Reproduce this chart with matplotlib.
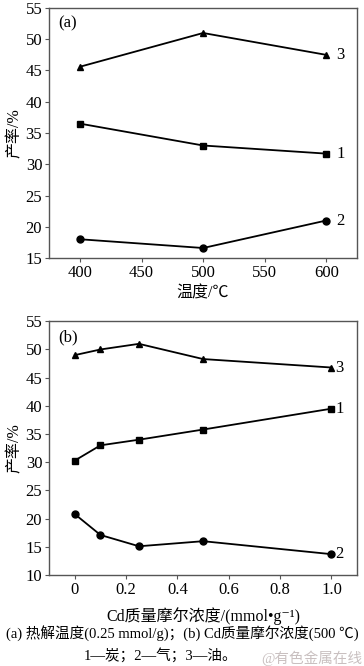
import matplotlib.pyplot as plt

plt.rcParams['font.family'] = ['Liberation Serif', 'Noto Sans CJK SC', 'DejaVu Serif']
plt.rcParams['axes.unicode_minus'] = False
fontsize = 12
lw = 1.3
ms = 5

# (a) pyrolysis temperature
temp = [400, 500, 600]
char_a = [36.5, 33.0, 31.7]
gas_a = [18.0, 16.6, 21.0]
oil_a = [45.6, 51.0, 47.5]

# (b) Cd concentration
conc = [0, 0.1, 0.25, 0.5, 1.0]
char_b = [30.3, 33.0, 34.0, 35.8, 39.5]
gas_b = [20.8, 17.1, 15.1, 16.0, 13.7]
oil_b = [49.0, 50.0, 51.0, 48.3, 46.8]

series_labels = ['1', '2', '3']

fig = plt.figure(figsize=(3.64, 6.66), dpi=100)
ax1 = fig.add_axes([0.135, 0.6126, 0.846, 0.3754])
ax2 = fig.add_axes([0.135, 0.1366, 0.846, 0.381])

def style(ax):
    for s in ax.spines.values():
        s.set_color('#555555')
        s.set_linewidth(1.0)
    ax.tick_params(direction='out', length=3, width=0.8, color='#555555',
                   labelsize=fontsize, pad=2)

ax1.plot(temp, char_a, color='black', marker='s', markersize=ms, linewidth=lw)
ax1.plot(temp, gas_a, color='black', marker='o', markersize=ms, linewidth=lw)
ax1.plot(temp, oil_a, color='black', marker='^', markersize=ms, linewidth=lw)
for ys, lab in zip([char_a, gas_a, oil_a], series_labels):
    ax1.annotate(lab, (temp[-1], ys[-1]), xytext=(7, 0), textcoords='offset points',
                 va='center', ha='left', fontsize=fontsize)
ax1.set_xlim(375, 625)
ax1.set_ylim(15, 55)
ax1.set_xticks([400, 450, 500, 550, 600])
ax1.set_yticks(range(15, 56, 5))
ax1.set_xlabel('温度/℃', fontsize=11.5, labelpad=3)
ax1.set_ylabel('产率/%', fontsize=11.5, labelpad=2)
ax1.text(0.03, 0.97, '(a)', transform=ax1.transAxes, va='top', ha='left', fontsize=fontsize)
style(ax1)

ax2.plot(conc, char_b, color='black', marker='s', markersize=ms, linewidth=lw)
ax2.plot(conc, gas_b, color='black', marker='o', markersize=ms, linewidth=lw)
ax2.plot(conc, oil_b, color='black', marker='^', markersize=ms, linewidth=lw)
for ys, lab in zip([char_b, gas_b, oil_b], series_labels):
    ax2.annotate(lab, (conc[-1], ys[-1]), xytext=(3, 0), textcoords='offset points',
                 va='center', ha='left', fontsize=fontsize)
ax2.set_xlim(-0.1, 1.1)
ax2.set_ylim(10, 55)
ax2.set_xticks([0, 0.2, 0.4, 0.6, 0.8, 1.0])
ax2.set_xticklabels(['0', '0.2', '0.4', '0.6', '0.8', '1.0'])
ax2.set_yticks(range(10, 56, 5))
ax2.set_xlabel('Cd质量摩尔浓度/(mmol•g⁻¹)', fontsize=11.5, labelpad=7)
ax2.set_ylabel('产率/%', fontsize=11.5, labelpad=2)
ax2.text(0.03, 0.97, '(b)', transform=ax2.transAxes, va='top', ha='left', fontsize=fontsize)
style(ax2)

fig.text(0.5, 1 - 633 / 666, '(a) 热解温度(0.25 mmol/g)；(b) Cd质量摩尔浓度(500 ℃)',
         ha='center', va='center', fontsize=10.5)
fig.text(0.44, 1 - 655 / 666, '1—炭；2—气；3—油。', ha='center', va='center', fontsize=10.5)
fig.text(0.995, 1 - 658 / 666, '@有色金属在线', ha='right', va='center', fontsize=10.5,
         color='#c9c0c0')

plt.savefig('out.png', dpi=100)
